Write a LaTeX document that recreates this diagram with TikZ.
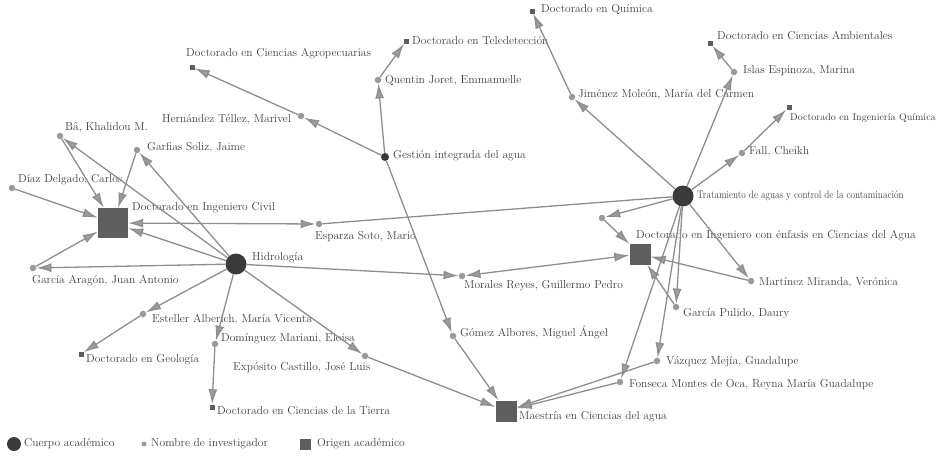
\documentclass[tikz,border=0pt]{standalone}
\usepackage{fontspec}
\usetikzlibrary{arrows.meta}
\definecolor{linea}{HTML}{8E8E8E}
\definecolor{punta}{HTML}{9C9C9C}
\definecolor{texto}{HTML}{404040}
\definecolor{oscuro}{HTML}{3A3A3A}
\definecolor{gris}{HTML}{5E5E5E}
\definecolor{punto}{HTML}{999999}

\begin{document}
\begin{tikzpicture}[x=1pt,y=-1pt,
    cuerpo/.style={circle,fill=oscuro,inner sep=0pt,minimum size=21pt},
    persona/.style={circle,fill=punto,inner sep=0pt,minimum size=6.5pt},
    origen/.style={rectangle,fill=gris,inner sep=0pt},
    etiqueta/.style={anchor=west,inner sep=0pt,text=texto,
      font=\fontsize{11.5}{13}\selectfont,text height=8pt,text depth=2.5pt},
    flecha/.style={draw=linea,line width=1.3pt,
      -{Latex[length=15pt,width=9pt,fill=punta]}},
    doble/.style={flecha,
      {Latex[length=15pt,width=9pt,fill=punta]}-{Latex[length=15pt,width=9pt,fill=punta]}},
    llana/.style={draw=linea,line width=1.3pt}]
  \useasboundingbox (0,0) rectangle (942,461);

% persona (#name, #x, #y, #label x, #label y, #text)
  \def\persona(#1,#2,#3,#4,#5,#6){
    \node[persona] (#1) at (#2,#3) {};
    \node[etiqueta] (#1-t) at (#4,#5) {#6};}
% origen (#name, #size, #x, #y, #label x, #label y, #text)
  \def\origen(#1,#2,#3,#4,#5,#6,#7){
    \node[origen,minimum size=#2] (#1) at (#3,#4) {};
    \node[etiqueta] (#1-t) at (#5,#6) {#7};}

  % cuerpos academicos
  \node[cuerpo] (hidro) at (236,264) {};
  \node[etiqueta] (hidro-t) at (252,258) {Hidrología};
  \node[cuerpo] (trata) at (683,196) {};
  \node[etiqueta,font=\fontsize{11}{13}\selectfont] (trata-t) at (697,196)
    {\scalebox{0.84}[1]{Tratamiento de aguas y control de la contaminación}};
  \node[cuerpo,minimum size=8pt] (gestion) at (385,157) {};
  \node[etiqueta] (gestion-t) at (393,156) {Gestión integrada del agua};

  % investigadores
  \persona(ba,60,136,65,128,Bâ, Khalidou M.)
  \persona(garfias,137,150,147,148,Garfias Soliz, Jaime)
  \persona(diaz,12,188,18,180,Díaz Delgado, Carlos)
  \persona(garcia,33,268,32,281,García Aragón, Juan Antonio)
  \persona(hernandez,301,116,162,120,Hernández Téllez, Marivel)
  \persona(quentin,378,80,385,81,Quentin Joret, Emmanuelle)
  \persona(esparza,319,224,315,237,Esparza Soto, Mario)
  \persona(esteller,143,314,152,320,Esteller Alberich, María Vicenta)
  \persona(dominguez,215,344,221,339,Domínguez Mariani, Eloisa)
  \persona(exposito,365,356,233,368,Expósito Castillo, José Luis)
  \persona(morales,462,276,464,286,Morales Reyes, Guillermo Pedro)
  \persona(gomez,453,336,460,334,Gómez Albores, Miguel Ángel)
  \persona(jimenez,572,97,578,95,Jiménez Moleón, María del Carmen)
  \persona(islas,734,72,743,71,Islas Espinoza, Marina)
  \persona(fall,742,153,749,152,Fall, Cheikh)
  \persona(martinez,751,281,759,283,Martínez Miranda, Verónica)
  \persona(pulido,676,307,683,314,García Pulido, Daury)
  \persona(vazquez,657,361,666,362,Vázquez Mejía, Guadalupe)
  \persona(fonseca,620,382,629,385,Fonseca Montes de Oca, Reyna María Guadalupe)
  \node[persona] (anonimo) at (602,218) {};

  % origenes academicos
  \origen(civil,30pt,113,223,132,208,Doctorado en Ingeniero Civil)
  \origen(agua,21pt,640,254,636,236,Doctorado en Ingeniero con énfasis en Ciencias del Agua)
  \origen(maestria,21pt,506,411,519,417,Maestría en Ciencias del agua)
  \origen(agro,5pt,192,67,186,54,Doctorado en Ciencias Agropecuarias)
  \origen(tele,5pt,406,41,412,42,Doctorado en Teledetección)
  \origen(quimica,5pt,532,11,541,10,Doctorado en Química)
  \origen(ambientales,5pt,710,43,717,37,Doctorado en Ciencias Ambientales)
  \origen(ingquimica,5pt,789,107,790,118,{\fontsize{10}{12}\selectfont Doctorado en Ingeniería Química})
  \origen(geologia,5pt,81,354,86,360,Doctorado en Geología)
  \origen(tierra,5pt,212,407,217,412,Doctorado en Ciencias de la Tierra)

  % relaciones
  \foreach \a/\b in {hidro/ba,ba/civil,hidro/garfias,garfias/civil,diaz/civil,
      hidro/civil,hidro/garcia,garcia/civil,hidro/esteller,esteller/geologia,
      hidro/dominguez,dominguez/tierra,hidro/exposito,exposito/maestria,
      hidro/morales,gestion/hernandez,hernandez/agro,gestion/quentin,
      quentin/tele,gestion/gomez,gomez/maestria,trata/jimenez,jimenez/quimica,
      trata/islas,islas/ambientales,trata/fall,fall/ingquimica,trata/anonimo,
      anonimo/agua,trata/martinez,martinez/agua,pulido/agua,trata/pulido,
      trata/vazquez,trata/fonseca,vazquez/maestria,fonseca/maestria}
    \draw[flecha] (\a) -- (\b);
  \draw[doble] (civil) -- (esparza);
  \draw[doble] (morales) -- (agua);
  \draw[llana] (esparza) -- (trata);

  % leyenda
  \node[cuerpo,minimum size=14pt] (ley-c) at (14,444) {};
  \node[etiqueta] (ley-c-t) at (24,444) {Cuerpo académico};
  \node[persona,minimum size=5pt] (ley-p) at (144,444) {};
  \node[etiqueta] (ley-p-t) at (151,444) {Nombre de investigador};
  \node[origen,minimum size=11pt] (ley-o) at (305,444) {};
  \node[etiqueta] (ley-o-t) at (317,444) {Origen académico};
\end{tikzpicture}
\end{document}
